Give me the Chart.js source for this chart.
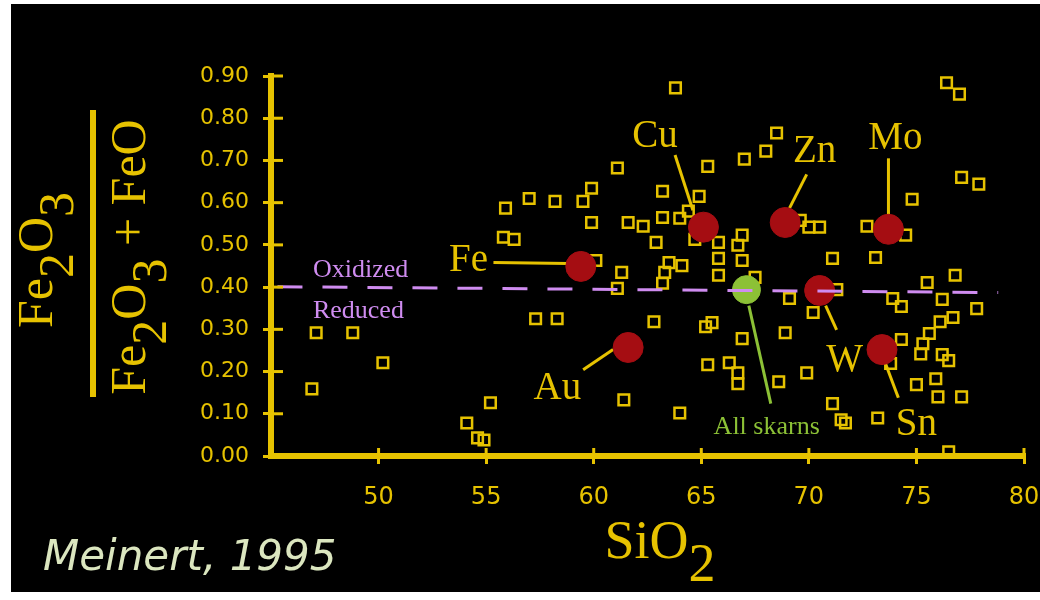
<!DOCTYPE html>
<html lang="en">
<head>
<meta charset="UTF-8">
<title>Fe2O3/(Fe2O3+FeO) vs SiO2 - skarn plutons</title>
<script src="https://cdn.jsdelivr.net/npm/chart.js@4.4.1/dist/chart.umd.min.js"></script>
<style>
    html, body { margin: 0; padding: 0; background: #fff; }
    #wrap { position: relative; width: 1040px; height: 600px; }
</style>
</head>
<body>
<div id="wrap"><canvas id="chart" width="1040" height="600"></canvas></div>
<script>
// individual plutons: SiO2 (wt%) and Fe2O3/(Fe2O3+FeO)
const sio2 = [
    55.9, 55.8, 56.3, 47.1, 48.8, 50.2, 46.9, 55.2, 54.1, 54.6,
    54.9, 63.8, 61.1, 57.0, 58.2, 59.5, 59.9, 59.9, 61.6, 62.3,
    63.2, 62.9, 63.2, 64.0, 64.4, 64.9, 65.3, 67.0, 64.7, 65.8,
    65.8, 65.8, 66.9, 66.7, 66.9, 60.1, 61.3, 61.1, 63.5, 64.1,
    63.3, 63.2, 57.3, 58.3, 62.8, 65.2, 65.5, 66.9, 65.3, 66.3,
    66.7, 66.7, 61.4, 64.0, 76.4, 77.0, 68.5, 68.0, 77.1, 77.9,
    74.8, 70.0, 70.5, 72.7, 74.5, 71.1, 73.1, 67.5, 76.8, 75.5,
    71.3, 69.1, 73.9, 74.3, 76.2, 77.8, 76.7, 76.1, 75.6, 70.2,
    68.9, 74.3, 75.3, 75.2, 76.2, 76.5, 73.8, 69.9, 68.6, 75.0,
    75.9, 76.0, 77.1, 71.1, 71.5, 71.7, 73.2, 76.5, 69.6
];
const feRatio = [
    0.587, 0.518, 0.513, 0.292, 0.292, 0.221, 0.159, 0.126, 0.078, 0.043,
    0.038, 0.872, 0.682, 0.610, 0.603, 0.603, 0.634, 0.553, 0.553, 0.544,
    0.627, 0.506, 0.565, 0.563, 0.580, 0.615, 0.686, 0.703, 0.513, 0.506,
    0.468, 0.428, 0.463, 0.499, 0.523, 0.463, 0.435, 0.397, 0.458, 0.451,
    0.435, 0.409, 0.325, 0.325, 0.318, 0.306, 0.316, 0.278, 0.216, 0.221,
    0.197, 0.171, 0.133, 0.102, 0.884, 0.857, 0.765, 0.722, 0.660, 0.644,
    0.608, 0.542, 0.542, 0.544, 0.523, 0.468, 0.470, 0.423, 0.428, 0.411,
    0.394, 0.373, 0.373, 0.354, 0.371, 0.349, 0.328, 0.318, 0.290, 0.340,
    0.292, 0.276, 0.266, 0.242, 0.240, 0.226, 0.219, 0.197, 0.176, 0.169,
    0.183, 0.140, 0.140, 0.124, 0.086, 0.078, 0.090, 0.010, 0.558
];

// averages per skarn class
const skarnTypes = ['Fe', 'Cu', 'Zn', 'Mo', 'W', 'Sn', 'Au'];
const skarnSio2 = [59.4, 65.1, 68.9, 73.7, 70.5, 73.4, 61.6];
const skarnRatio = [0.449, 0.542, 0.553, 0.537, 0.392, 0.252, 0.257];

const allSkarnsSio2 = [67.1];
const allSkarnsRatio = [0.394];

// oxidized / reduced boundary
const boundarySio2 = [45.3, 78.8];
const boundaryRatio = [0.401, 0.387];

const xTicks = [45, 50, 55, 60, 65, 70, 75, 80];
const yTicks = [0, 0.1, 0.2, 0.3, 0.4, 0.5, 0.6, 0.7, 0.8, 0.9];

const yellow = '#e6c200';
const violet = '#cf8cf0';
const green = '#8cc136';

// where each class name sits and its leader line (data units)
const callouts = [
    { text: 'Fe', at: [54.18, 0.439], line: [[55.34, 0.458], [58.82, 0.456]] },
    { text: 'Cu', at: [62.85, 0.732], line: [[63.78, 0.713], [64.61, 0.582]] },
    { text: 'Zn', at: [70.27, 0.696], line: [[69.90, 0.667], [69.10, 0.587]] },
    { text: 'Mo', at: [74.02, 0.727], line: [[73.70, 0.705], [73.70, 0.570]] },
    { text: 'W',  at: [71.66, 0.202], line: [[70.78, 0.356], [71.29, 0.299]] },
    { text: 'Sn', at: [75.00, 0.050], line: [[73.42, 0.238], [74.16, 0.138]] },
    { text: 'Au', at: [58.31, 0.135], line: [[60.90, 0.252], [59.51, 0.204]] }
];

function drawChem(ctx, parts, size) {
    ctx.font = size + 'px "Liberation Serif", "Times New Roman", serif';
    let total = 0;
    parts.forEach(p => { total += ctx.measureText(p[0]).width; });
    let x = -total / 2;
    ctx.textAlign = 'left';
    ctx.textBaseline = 'alphabetic';
    parts.forEach(p => {
        ctx.fillText(p[0], x, p[1] ? size * 0.42 : 0);
        x += ctx.measureText(p[0]).width;
    });
}

const decor = {
    id: 'decor',
    beforeDraw(chart) {
        const ctx = chart.ctx;
        ctx.save();
        ctx.fillStyle = '#fff';
        ctx.fillRect(0, 0, chart.width, chart.height);
        ctx.fillStyle = '#000';
        ctx.fillRect(11, 4, chart.width - 11, 588);
        ctx.restore();
    },
    beforeDatasetsDraw(chart) {
        const ctx = chart.ctx, xs = chart.scales.x, ys = chart.scales.y;
        ctx.save();
        ctx.lineWidth = 3;
        ctx.strokeStyle = yellow;
        callouts.forEach(c => {
            ctx.beginPath();
            ctx.moveTo(xs.getPixelForValue(c.line[0][0]), ys.getPixelForValue(c.line[0][1]));
            ctx.lineTo(xs.getPixelForValue(c.line[1][0]), ys.getPixelForValue(c.line[1][1]));
            ctx.stroke();
        });
        ctx.strokeStyle = green;
        ctx.beginPath();
        ctx.moveTo(xs.getPixelForValue(67.21), ys.getPixelForValue(0.356));
        ctx.lineTo(xs.getPixelForValue(68.23), ys.getPixelForValue(0.124));
        ctx.stroke();
        ctx.restore();
    },
    afterDraw(chart) {
        const ctx = chart.ctx, xs = chart.scales.x, ys = chart.scales.y;
        const area = chart.chartArea;
        ctx.save();

        // inner half of the axis ticks
        ctx.strokeStyle = yellow;
        ctx.lineWidth = 3;
        yTicks.forEach(v => {
            const py = ys.getPixelForValue(v);
            ctx.beginPath();
            ctx.moveTo(area.left, py);
            ctx.lineTo(area.left + 12, py);
            ctx.stroke();
        });
        xTicks.slice(1).forEach(v => {
            const px = xs.getPixelForValue(v);
            ctx.beginPath();
            ctx.moveTo(px, area.bottom);
            ctx.lineTo(px, area.bottom - 8);
            ctx.stroke();
        });

        // class names
        ctx.fillStyle = yellow;
        ctx.font = '39px "Liberation Serif", "Times New Roman", serif';
        ctx.textAlign = 'center';
        ctx.textBaseline = 'alphabetic';
        callouts.forEach(c => {
            ctx.fillText(c.text, xs.getPixelForValue(c.at[0]), ys.getPixelForValue(c.at[1]));
        });

        ctx.fillStyle = green;
        ctx.font = '26px "Liberation Serif", "Times New Roman", serif';
        ctx.fillText('All skarns', xs.getPixelForValue(68.04), ys.getPixelForValue(0.052));

        ctx.fillStyle = violet;
        ctx.textAlign = 'left';
        ctx.fillText('Oxidized', xs.getPixelForValue(46.95), ys.getPixelForValue(0.425));
        ctx.fillText('Reduced', xs.getPixelForValue(46.95), ys.getPixelForValue(0.328));

        // x title
        ctx.fillStyle = yellow;
        ctx.save();
        ctx.translate(660, 558);
        drawChem(ctx, [['SiO', 0], ['2', 1]], 54);
        ctx.restore();

        // y title as a fraction
        ctx.save();
        ctx.translate(52, 260);
        ctx.rotate(-Math.PI / 2);
        drawChem(ctx, [['Fe', 0], ['2', 1], ['O', 0], ['3', 1]], 50);
        ctx.restore();
        ctx.save();
        ctx.translate(145, 257);
        ctx.rotate(-Math.PI / 2);
        drawChem(ctx, [['Fe', 0], ['2', 1], ['O', 0], ['3', 1], [' + FeO', 0]], 50);
        ctx.restore();
        ctx.fillRect(90, 110, 6, 287);

        // source
        ctx.fillStyle = '#dbe6bf';
        ctx.font = 'italic 42px "DejaVu Sans", Verdana, sans-serif';
        ctx.textAlign = 'left';
        ctx.fillText('Meinert, 1995', 43, 570);

        ctx.restore();
    }
};

new Chart(document.getElementById('chart'), {
    type: 'scatter',
    data: {
        datasets: [
            {
                type: 'line',
                label: 'Oxidized / Reduced',
                data: boundarySio2.map((x, i) => ({ x: x, y: boundaryRatio[i] })),
                borderColor: violet,
                borderWidth: 3,
                borderDash: [25, 20],
                pointRadius: 0,
                fill: false,
                order: 0
            },
            {
                label: 'All skarns',
                data: allSkarnsSio2.map((x, i) => ({ x: x, y: allSkarnsRatio[i] })),
                backgroundColor: green,
                borderColor: green,
                pointRadius: 14,
                order: 1,
                clip: false
            },
            {
                label: 'Skarn types',
                data: skarnSio2.map((x, i) => ({ x: x, y: skarnRatio[i], name: skarnTypes[i] })),
                backgroundColor: '#a50d12',
                borderColor: '#a50d12',
                pointRadius: 15,
                order: 2,
                clip: false
            },
            {
                label: 'Plutons',
                data: sio2.map((x, i) => ({ x: x, y: feRatio[i] })),
                pointStyle: 'rect',
                pointRadius: 7.5,
                borderWidth: 2.5,
                borderColor: yellow,
                backgroundColor: 'rgba(0,0,0,0)',
                order: 3,
                clip: false
            }
        ]
    },
    options: {
        responsive: false,
        animation: false,
        layout: { padding: { left: 0, top: 76, right: 15, bottom: 0 } },
        plugins: {
            legend: { display: false },
            tooltip: { enabled: false }
        },
        scales: {
            x: {
                type: 'linear',
                min: 45,
                max: 80,
                afterBuildTicks: scale => { scale.ticks = xTicks.map(v => ({ value: v })); },
                afterFit: scale => {
                    scale.height = 144;
                    // let the last label run to the frame edge like the original
                    scale.paddingLeft = 0;
                    scale.paddingRight = 0;
                },
                border: { color: yellow, width: 6 },
                grid: {
                    drawOnChartArea: false,
                    tickLength: 8,
                    lineWidth: 3,
                    color: ctx => (ctx.tick && ctx.tick.value === 45) ? 'rgba(0,0,0,0)' : yellow
                },
                ticks: {
                    color: yellow,
                    padding: 19,
                    maxRotation: 0,
                    font: { family: '"DejaVu Sans", Verdana, sans-serif', size: 24 },
                    callback: v => v === 45 ? '' : String(v)
                }
            },
            y: {
                type: 'linear',
                min: 0,
                max: 0.9,
                afterBuildTicks: scale => { scale.ticks = yTicks.map(v => ({ value: v })); },
                afterFit: scale => { scale.width = 271; },
                border: { color: yellow, width: 6 },
                grid: {
                    drawOnChartArea: false,
                    tickLength: 8,
                    lineWidth: 3,
                    color: yellow
                },
                ticks: {
                    color: yellow,
                    padding: 14,
                    font: { family: '"DejaVu Sans", Verdana, sans-serif', size: 22 },
                    callback: v => Number(v).toFixed(2)
                }
            }
        }
    },
    plugins: [decor]
});
</script>
</body>
</html>
